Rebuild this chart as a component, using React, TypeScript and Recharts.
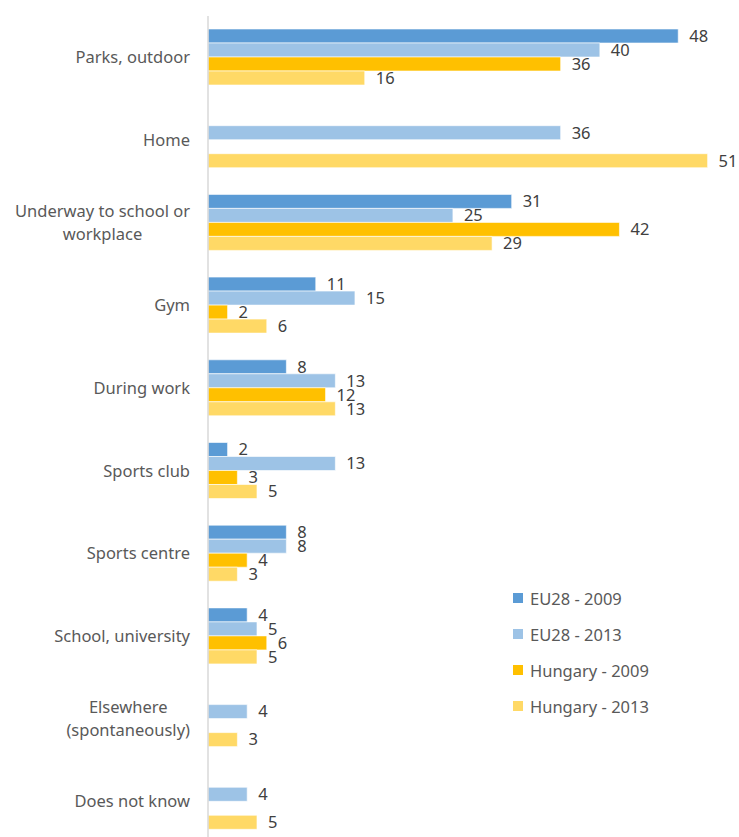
import React from "react"
import { BarChart, Bar, XAxis, YAxis, LabelList } from "recharts"

const CATEGORIES = [
  "Parks, outdoor",
  "Home",
  "Underway to school or\nworkplace",
  "Gym",
  "During work",
  "Sports club",
  "Sports centre",
  "School, university",
  "Elsewhere\n(spontaneously)",
  "Does not know",
]

const EU28_2009 = [48, null, 31, 11, 8, 2, 8, 4, null, null]
const EU28_2013 = [40, 36, 25, 15, 13, 13, 8, 5, 4, 4]
const HU_2009 = [36, null, 42, 2, 12, 3, 4, 6, null, null]
const HU_2013 = [16, 51, 29, 6, 13, 5, 3, 5, 3, 5]

const SERIES = [
  { key: "eu2009", name: "EU28 - 2009", color: "#5B9BD5", values: EU28_2009 },
  { key: "eu2013", name: "EU28 - 2013", color: "#9DC3E6", values: EU28_2013 },
  { key: "hu2009", name: "Hungary - 2009", color: "#FFC000", values: HU_2009 },
  { key: "hu2013", name: "Hungary - 2013", color: "#FFD966", values: HU_2013 },
]

const FONT = "'Noto Sans', 'Open Sans', sans-serif"
const FS = 16.5

const data = CATEGORIES.map((name, i) => {
  const row: Record<string, any> = { name }
  SERIES.forEach(s => (row[s.key] = s.values[i]))
  return row
})

let ctx: CanvasRenderingContext2D | null = null
function textWidth(s: string) {
  if (!ctx) ctx = document.createElement("canvas").getContext("2d")
  if (!ctx) return s.length * FS * 0.5
  ctx.font = `${FS}px ${FONT}`
  return ctx.measureText(s).width
}

function CategoryTick({ x, y, payload }: any) {
  const lines = String(payload.value).split("\n")
  const maxW = Math.max(...lines.map(textWidth))
  const cx = x - maxW / 2
  const lh = 23
  const y0 = y - ((lines.length - 1) * lh) / 2
  return (
    <text textAnchor="middle" fill="#595959" fontSize={FS} fontFamily={FONT}>
      {lines.map((l, i) => (
        <tspan key={i} x={cx} y={y0 + i * lh} dy="0.35em">
          {l}
        </tspan>
      ))}
    </text>
  )
}

function LegendBox() {
  return (
    <div style={{ position: "absolute", left: 513, top: 580, fontFamily: FONT, fontSize: FS, color: "#595959" }}>
      {SERIES.map(s => (
        <div key={s.key} style={{ display: "flex", alignItems: "center", height: 36 }}>
          <span style={{ width: 10, height: 10, background: s.color, marginRight: 7, display: "inline-block" }} />
          {s.name}
        </div>
      ))}
    </div>
  )
}

export default function App() {
  return (
    <div style={{ position: "absolute", left: 0, top: 0, width: 739, height: 837, overflow: "hidden", background: "#fff" }}>
      <BarChart
        width={739}
        height={845}
        data={data}
        layout="vertical"
        margin={{ top: 16, right: 2, bottom: 2, left: 0 }}
        barCategoryGap={13}
        barGap={0}
      >
        <XAxis type="number" domain={[0, 54]} hide />
        <YAxis
          type="category"
          dataKey="name"
          width={208}
          axisLine={{ stroke: "#D9D9D9", strokeWidth: 1.5 }}
          tickLine={false}
          tickSize={0}
          tickMargin={18}
          tick={<CategoryTick />}
          interval={0}
        />
        {SERIES.map(s => (
          <Bar key={s.key} dataKey={s.key} name={s.name} fill={s.color} stroke="#fff" strokeWidth={0.6} isAnimationActive={false}>
            <LabelList
              dataKey={s.key}
              position="right"
              offset={11}
              fill="#404040"
              fontSize={FS}
              fontFamily={FONT}
              formatter={(v: any) => (v == null ? "" : v)}
            />
          </Bar>
        ))}
      </BarChart>
      <LegendBox />
    </div>
  )
}
